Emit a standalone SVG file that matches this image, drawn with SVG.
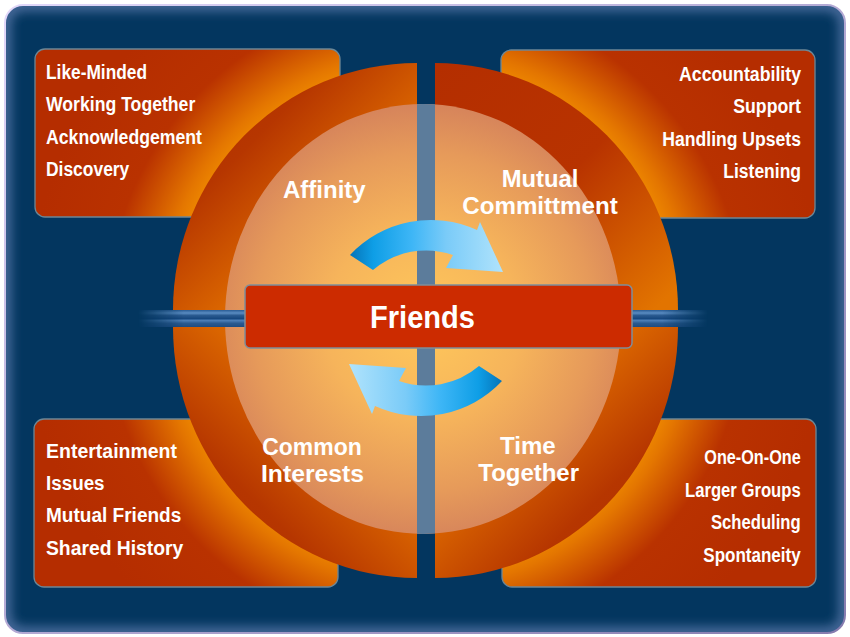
<svg xmlns="http://www.w3.org/2000/svg" width="850" height="637" viewBox="0 0 850 637">
<defs>
<style>
.t{font-family:"Liberation Sans",Arial,sans-serif;font-weight:bold;fill:#fff;}
.li{font-size:19.5px;}
.lb{font-size:23px;}
.box{stroke:#6C8796;stroke-width:1.3;fill:url(#boxg);}
</style>
<linearGradient id="borderg" x1="0" y1="0" x2="1" y2="1">
<stop offset="0" stop-color="#E2D8FA"/><stop offset="1" stop-color="#857BAE"/>
</linearGradient>
<filter id="blur6" x="-5%" y="-5%" width="110%" height="110%"><feGaussianBlur stdDeviation="6"/></filter>
<clipPath id="bgclip"><rect x="5" y="5" width="840" height="628" rx="18"/></clipPath>
<radialGradient id="boxg" gradientUnits="userSpaceOnUse" cx="426" cy="318" r="400">
<stop offset="0.6" stop-color="#F59400"/>
<stop offset="0.67" stop-color="#E47600"/>
<stop offset="0.8" stop-color="#B93200"/>
<stop offset="1" stop-color="#B52D00"/>
</radialGradient>
<linearGradient id="gtl" gradientUnits="userSpaceOnUse" x1="173" y1="63" x2="417" y2="310">
<stop offset="0" stop-color="#B02A00"/><stop offset="0.32" stop-color="#B63600"/><stop offset="0.6" stop-color="#DA6500"/><stop offset="1" stop-color="#E87A00"/>
</linearGradient>
<linearGradient id="gtr" gradientUnits="userSpaceOnUse" x1="435" y1="63" x2="678" y2="310">
<stop offset="0" stop-color="#B42E00"/><stop offset="0.5" stop-color="#B83300"/><stop offset="0.95" stop-color="#E27400"/>
</linearGradient>
<linearGradient id="gbl" gradientUnits="userSpaceOnUse" x1="173" y1="578" x2="417" y2="327">
<stop offset="0" stop-color="#B02A00"/><stop offset="0.32" stop-color="#B63600"/><stop offset="0.6" stop-color="#DA6500"/><stop offset="1" stop-color="#E87A00"/>
</linearGradient>
<linearGradient id="gbr" gradientUnits="userSpaceOnUse" x1="678" y1="578" x2="435" y2="327">
<stop offset="0" stop-color="#B02A00"/><stop offset="0.32" stop-color="#B63600"/><stop offset="0.6" stop-color="#DA6500"/><stop offset="1" stop-color="#E87A00"/>
</linearGradient>
<radialGradient id="inner" gradientUnits="userSpaceOnUse" cx="424" cy="322" r="218">
<stop offset="0" stop-color="#FFC85B"/><stop offset="0.45" stop-color="#F6B45B"/><stop offset="0.78" stop-color="#E69A5A"/><stop offset="1" stop-color="#D6845B"/>
</radialGradient>
<clipPath id="ellclip"><ellipse cx="423" cy="319" rx="198" ry="215"/></clipPath>
<linearGradient id="stripes" x1="0" y1="0" x2="0" y2="1">
<stop offset="0" stop-color="#2A5C94"/><stop offset="0.18" stop-color="#5A8CC2"/><stop offset="0.32" stop-color="#2A5A90"/><stop offset="0.5" stop-color="#174880"/><stop offset="0.62" stop-color="#4C7EB6"/><stop offset="0.78" stop-color="#2A5A90"/><stop offset="1" stop-color="#1E4C82"/>
</linearGradient>
<linearGradient id="fade" gradientUnits="userSpaceOnUse" x1="138" y1="0" x2="708" y2="0">
<stop offset="0" stop-color="#000"/><stop offset="0.08" stop-color="#fff"/><stop offset="0.92" stop-color="#fff"/><stop offset="1" stop-color="#000"/>
</linearGradient>
<mask id="fademask"><rect x="138" y="305" width="570" height="27" fill="url(#fade)"/></mask>
<linearGradient id="arrowg" gradientUnits="userSpaceOnUse" x1="350" y1="0" x2="505" y2="0">
<stop offset="0" stop-color="#0674B8"/><stop offset="0.15" stop-color="#0E9EE6"/><stop offset="0.4" stop-color="#3EB6F6"/><stop offset="0.62" stop-color="#7ACBF8"/><stop offset="1" stop-color="#B2E4FC"/>
</linearGradient>
<path id="arrow" d="M350,255 A111 111 0 0 1 477,230 L480,222 L503,272 L446,268 L453,255 A82 82 0 0 0 373,270 Z"/>
</defs>

<g id="background">
<rect x="0" y="0" width="850" height="637" fill="#fff"/>
<rect x="5" y="5" width="840" height="628" rx="18" fill="#03365F"/>
<g clip-path="url(#bgclip)">
<rect x="5" y="5" width="840" height="628" rx="18" fill="none" stroke="#5A78AA" stroke-width="10" filter="url(#blur6)"/>
</g>
<rect x="5" y="5" width="840" height="628" rx="18" fill="none" stroke="url(#borderg)" stroke-width="2"/>
</g>

<g id="box-affinity"><rect class="box" x="35" y="49" width="305" height="168" rx="10"/></g>
<g id="box-commitment"><rect class="box" x="501" y="50" width="314" height="168" rx="10"/></g>
<g id="box-interests"><rect class="box" x="34" y="419" width="304" height="168" rx="10"/></g>
<g id="box-time"><rect class="box" x="502" y="419" width="314" height="168" rx="10"/></g>

<g id="rings">
<path d="M417,310 L173,310 A244 247 0 0 1 417,63 Z" fill="url(#gtl)"/>
<path d="M435,310 L435,63 A243 247 0 0 1 678,310 Z" fill="url(#gtr)"/>
<path d="M417,327 L417,578 A244 251 0 0 1 173,327 Z" fill="url(#gbl)"/>
<path d="M435,327 L678,327 A243 251 0 0 1 435,578 Z" fill="url(#gbr)"/>
</g>
<g id="inner-circle">
<ellipse cx="423" cy="319" rx="198" ry="215" fill="url(#inner)"/>
<rect x="417" y="100" width="18" height="440" fill="#5C7C9B" clip-path="url(#ellclip)"/>
</g>
<g id="stripes-band">
<rect x="138" y="310" width="570" height="17" fill="url(#stripes)" mask="url(#fademask)"/>
</g>

<g id="connectors">
<use href="#arrow" fill="url(#arrowg)"/>
<use href="#arrow" fill="url(#arrowg)" transform="rotate(180 426 318)"/>
</g>

<g id="friends">
<rect x="245" y="285" width="387" height="63" rx="5" fill="#CC2B00" stroke="#7E8E9A" stroke-width="1.5"/>
<text class="t" x="370" y="327.5" font-size="31" textLength="105" lengthAdjust="spacingAndGlyphs">Friends</text>
</g>

<g id="affinity">
<text class="t lb" x="283" y="197.7" textLength="82.7" lengthAdjust="spacingAndGlyphs">Affinity</text>
<text class="t li" x="46" y="79" textLength="101" lengthAdjust="spacingAndGlyphs">Like-Minded</text>
<text class="t li" x="46" y="111.3" textLength="149.3" lengthAdjust="spacingAndGlyphs">Working Together</text>
<text class="t li" x="46" y="143.5" textLength="156" lengthAdjust="spacingAndGlyphs">Acknowledgement</text>
<text class="t li" x="46" y="175.8" textLength="83.3" lengthAdjust="spacingAndGlyphs">Discovery</text>
</g>

<g id="mutual-commitment">
<text class="t lb" x="501.7" y="187.3" textLength="76.6" lengthAdjust="spacingAndGlyphs">Mutual</text>
<text class="t lb" x="462.3" y="214.3" textLength="155.4" lengthAdjust="spacingAndGlyphs">Committment</text>
<text class="t li" x="679" y="81" textLength="122" lengthAdjust="spacingAndGlyphs">Accountability</text>
<text class="t li" x="733.3" y="113.3" textLength="67.7" lengthAdjust="spacingAndGlyphs">Support</text>
<text class="t li" x="662.3" y="146" textLength="138.7" lengthAdjust="spacingAndGlyphs">Handling Upsets</text>
<text class="t li" x="723.3" y="178.3" textLength="77.7" lengthAdjust="spacingAndGlyphs">Listening</text>
</g>

<g id="common-interests">
<text class="t lb" x="262.3" y="455.3" textLength="99.4" lengthAdjust="spacingAndGlyphs">Common</text>
<text class="t lb" x="261" y="482.3" textLength="103" lengthAdjust="spacingAndGlyphs">Interests</text>
<text class="t li" x="46" y="458" textLength="131" lengthAdjust="spacingAndGlyphs">Entertainment</text>
<text class="t li" x="46" y="489.7" textLength="58.6" lengthAdjust="spacingAndGlyphs">Issues</text>
<text class="t li" x="46" y="522" textLength="135.3" lengthAdjust="spacingAndGlyphs">Mutual Friends</text>
<text class="t li" x="46" y="554.7" textLength="137.3" lengthAdjust="spacingAndGlyphs">Shared History</text>
</g>

<g id="time-together">
<text class="t lb" x="500" y="453.7" textLength="55.7" lengthAdjust="spacingAndGlyphs">Time</text>
<text class="t lb" x="478.3" y="480.7" textLength="100.7" lengthAdjust="spacingAndGlyphs">Together</text>
<text class="t li" x="704.3" y="463.7" textLength="96.4" lengthAdjust="spacingAndGlyphs">One-On-One</text>
<text class="t li" x="685" y="497" textLength="115.7" lengthAdjust="spacingAndGlyphs">Larger Groups</text>
<text class="t li" x="711" y="529" textLength="89.7" lengthAdjust="spacingAndGlyphs">Scheduling</text>
<text class="t li" x="703.3" y="562.3" textLength="97.4" lengthAdjust="spacingAndGlyphs">Spontaneity</text>
</g>
</svg>
